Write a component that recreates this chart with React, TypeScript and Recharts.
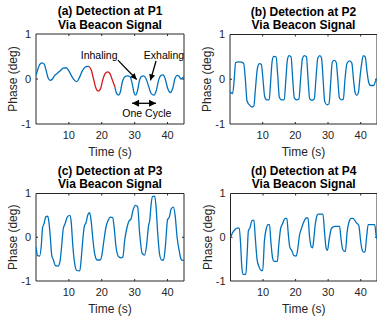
import React from 'react';
import { LineChart, Line, XAxis, YAxis, ReferenceArea, ReferenceLine, ReferenceDot } from 'recharts';

// ---- shared axis config ----
const xDomain: [number, number] = [0, 45];
const yDomain: [number, number] = [-1, 1];
const xTicks = [10, 20, 30, 40];
const yTicks = [-1, 0, 1];

const subtitle = 'Via Beacon Signal';
const xLabel = 'Time (s)';
const yLabel = 'Phase (deg)';

// ---- P1 ----
const p1Title = '(a) Detection at P1';
const p1Time = [0, 0.5, 1.1, 1.8, 2.5, 3.1, 3.7, 4.3, 5.0, 5.6, 6.4, 7.3, 8.3, 9.2, 10.0, 10.8, 11.6, 12.4, 13.2, 14.0, 14.9, 15.6,
  16.1, 16.8, 17.5, 18.2, 18.9, 19.6, 20.3, 21.0, 21.8, 22.5, 23.2, 24.0,
  24.5, 25.1, 25.6, 26.3, 27.0, 27.8, 28.6, 29.3, 29.8, 30.3, 30.9, 31.5, 32.1, 32.8, 33.5, 34.2, 35.0, 35.9, 36.6, 37.3, 38.0, 38.6, 39.3, 40.0, 40.9, 41.6, 42.3, 43.0, 43.5, 44.1, 44.6, 45.0];
const p1Phase = [0.08, 0.2, 0.32, 0.36, 0.33, 0.18, 0.02, -0.03, 0.0, 0.07, 0.12, 0.18, 0.24, 0.25, 0.18, 0.07, -0.02, -0.06, 0.03, 0.17, 0.26, 0.28,
  0.28, 0.2, 0.0, -0.2, -0.27, -0.22, -0.02, 0.12, 0.16, 0.12, -0.02, -0.18,
  -0.32, -0.36, -0.3, -0.05, 0.05, 0.07, 0.05, -0.12, -0.3, -0.36, -0.25, -0.02, 0.06, 0.07, 0.0, -0.15, -0.32, -0.36, -0.25, -0.02, 0.08, 0.09, 0.0, -0.2, -0.3, -0.2, 0.02, 0.08, 0.06, 0.0, 0.03, 0.05];
const p1RedFrom = 16.1;
const p1RedTo = 24.0;

// ---- P2 ----
const p2Title = '(b) Detection at P2';
const p2Time = [0, 0.8, 1.3, 1.7, 2.5, 3.5, 4.2, 4.7, 5.2, 6.0, 6.8, 7.3, 7.8, 8.4, 9.0, 9.6, 10.1, 10.6, 11.2, 12.0, 12.4, 12.9, 13.4, 14.1, 14.6, 15.1, 15.8, 16.6, 17.1, 17.6, 18.1, 18.7, 19.2, 19.7, 20.4, 21.1, 21.6, 22.2, 22.8, 23.4, 23.9, 24.4, 25.1, 25.8, 26.3, 26.9, 27.5, 28.0, 28.5, 29.0, 29.7, 30.3, 30.8, 31.3, 31.9, 32.5, 33.0, 33.5, 34.1, 34.7, 35.2, 35.8, 36.6, 37.3, 37.8, 38.3, 38.8, 39.3, 39.8, 40.3, 40.8, 41.4, 41.9, 42.4, 43.0, 44.0, 44.5, 45];
const p2Phase = [-0.28, -0.32, 0.0, 0.37, 0.39, 0.38, 0.35, 0.0, -0.48, -0.58, -0.62, -0.6, -0.2, 0.25, 0.35, 0.33, 0.0, -0.38, -0.46, -0.46, -0.1, 0.4, 0.51, 0.5, 0.1, -0.4, -0.46, -0.46, 0.0, 0.45, 0.53, 0.5, 0.0, -0.42, -0.46, -0.44, 0.0, 0.47, 0.53, 0.5, 0.0, -0.44, -0.47, -0.44, 0.0, 0.48, 0.53, 0.48, 0.0, -0.5, -0.57, -0.55, -0.1, 0.38, 0.42, 0.38, 0.0, -0.42, -0.46, -0.44, 0.0, 0.35, 0.41, 0.36, 0.0, -0.3, -0.36, -0.3, 0.05, 0.35, 0.53, 0.5, 0.2, -0.05, -0.14, -0.14, -0.05, 0.0];

// ---- P3 ----
const p3Title = '(c) Detection at P3';
const p3Time = [0, 0.5, 1.1, 1.6, 2.0, 2.4, 3.0, 3.6, 4.0, 4.4, 4.8, 5.3, 5.9, 6.7, 7.3, 7.8, 8.3, 8.8, 9.5, 10.3, 10.7, 11.2, 11.8, 12.4, 13.3, 13.8, 14.3, 14.7, 15.2, 15.8, 16.3, 16.8, 17.3, 17.9, 18.6, 19.5, 20.0, 20.6, 21.3, 21.9, 22.6, 23.3, 23.8, 24.3, 25.0, 25.8, 26.4, 27.0, 27.6, 28.2, 28.9, 29.5, 30.3, 30.9, 31.5, 32.3, 33.0, 33.6, 34.2, 34.6, 35.0, 35.4, 36.1, 36.5, 37.0, 37.6, 38.2, 38.8, 39.4, 40.0, 40.5, 41.1, 41.8, 42.3, 42.9, 43.5, 44.1, 44.6, 45];
const p3Phase = [-0.22, -0.42, -0.43, -0.2, 0.22, 0.3, 0.47, 0.48, 0.3, -0.05, -0.42, -0.52, -0.65, -0.66, -0.55, -0.2, 0.2, 0.3, 0.46, 0.5, 0.35, -0.2, -0.62, -0.76, -0.77, -0.45, 0.0, 0.25, 0.33, 0.52, 0.56, 0.35, -0.05, -0.4, -0.52, -0.52, -0.42, -0.1, 0.24, 0.38, 0.46, 0.45, 0.2, -0.2, -0.43, -0.47, -0.45, -0.05, 0.2, 0.36, 0.42, 0.62, 0.73, 0.7, 0.1, -0.37, -0.41, -0.2, 0.25, 0.4, 0.75, 0.93, 0.94, 0.7, 0.1, -0.4, -0.52, -0.52, -0.15, 0.4, 0.45, 0.65, 0.69, 0.5, 0.0, -0.29, -0.5, -0.53, -0.53];

// ---- P4 ----
const p4Title = '(d) Detection at P4';
const p4Time = [0, 0.6, 1.2, 2.0, 2.7, 3.1, 3.5, 3.9, 4.7, 5.1, 5.5, 6.0, 6.6, 7.2, 7.6, 8.2, 8.8, 9.4, 9.9, 10.4, 11.0, 11.5, 12.0, 12.4, 13.0, 13.4, 14.4, 14.8, 15.4, 16.0, 16.8, 17.3, 17.7, 18.2, 18.8, 19.5, 20.2, 20.6, 21.2, 21.8, 22.4, 23.3, 23.8, 24.3, 24.8, 25.2, 25.5, 26.0, 26.5, 26.9, 28.4, 28.9, 29.4, 29.8, 30.3, 31.0, 32.0, 33.5, 33.9, 34.4, 34.9, 35.3, 35.8, 36.4, 37.1, 37.6, 38.7, 39.4, 40.0, 40.4, 40.9, 41.3, 41.8, 42.3, 43.3, 44.3, 44.8, 45];
const p4Phase = [0.0, 0.1, 0.16, 0.21, 0.21, -0.15, -0.7, -0.85, -0.85, -0.4, 0.15, 0.22, 0.38, 0.39, 0.0, -0.53, -0.68, -0.76, -0.76, -0.1, 0.2, 0.29, 0.29, -0.1, -0.5, -0.55, -0.55, -0.2, 0.2, 0.31, 0.43, 0.43, 0.12, -0.22, -0.3, -0.42, -0.43, -0.3, 0.05, 0.2, 0.33, 0.44, 0.44, 0.0, -0.22, -0.24, -0.1, 0.27, 0.48, 0.53, 0.53, 0.1, -0.26, -0.3, -0.05, 0.2, 0.25, 0.25, 0.0, -0.26, -0.32, -0.32, 0.1, 0.35, 0.43, 0.43, 0.33, 0.27, -0.1, -0.28, -0.34, -0.33, 0.0, 0.29, 0.29, 0.29, 0.0, -0.03];

// ---- P1 annotations (data coordinates) ----
const inhalingText = { label: 'Inhaling', t: 19.2, v: 0.53 };
const exhalingText = { label: 'Exhaling', t: 38.9, v: 0.53 };
const cycleText = { label: 'One Cycle', t: 33.7, v: -0.76 };
const inhalingArrow = [{ x: 24.9, y: 0.42 }, { x: 30.6, y: -0.01 }];
const exhalingArrow = [{ x: 36.5, y: 0.4 }, { x: 34.8, y: -0.03 }];
const cycleArrow = [{ x: 29.2, y: -0.54 }, { x: 36.5, y: -0.54 }];

const BLUE = '#0072BD';
const RED = '#D9161B';
const AX = '#262626';
const FONT = '"Liberation Sans", Arial, Helvetica, sans-serif';

const zip = (ts: number[], vs: number[]) => ts.map((t, i) => ({ t, v: vs[i] }));

const p1Data = p1Time.map((t, i) => ({
  t,
  blue: t <= p1RedFrom || t >= p1RedTo ? p1Phase[i] : null,
  red: t >= p1RedFrom && t <= p1RedTo ? p1Phase[i] : null,
}));

type Frame = { left: number; top: number; width: number; height: number; pl: number; pt: number; pr: number; pb: number };

const frames: Frame[] = [
  { left: 0, top: 0, width: 190, height: 162, pl: 36, pt: 34, pr: 184, pb: 124 },
  { left: 188, top: 0, width: 189, height: 162, pl: 230, pt: 34.5, pr: 377, pb: 124 },
  { left: 0, top: 162, width: 190, height: 162, pl: 36, pt: 193.5, pr: 184, pb: 281 },
  { left: 188, top: 162, width: 189, height: 162, pl: 230.5, pt: 193.5, pr: 377, pb: 281 },
];

function arrowShape(double: boolean, head: number, headW: number) {
  return (p: any) => {
    const { x1, y1, x2, y2 } = p;
    const dx = x2 - x1, dy = y2 - y1;
    const len = Math.sqrt(dx * dx + dy * dy) || 1;
    const ux = dx / len, uy = dy / len;
    const nx = -uy, ny = ux;
    const headAt = (tx: number, ty: number, sx: number, sy: number) => {
      const bx = tx - sx * head, by = ty - sy * head;
      return `${tx},${ty} ${bx + nx * headW},${by + ny * headW} ${bx - nx * headW},${by - ny * headW}`;
    };
    return (
      <g>
        <line x1={x1} y1={y1} x2={x2} y2={y2} stroke="#000" strokeWidth={1.3} />
        <polygon points={headAt(x2, y2, ux, uy)} fill="#000" />
        {double ? <polygon points={headAt(x1, y1, -ux, -uy)} fill="#000" /> : null}
      </g>
    );
  };
}

const textShape = (label: string) => (p: any) => (
  <text x={p.cx} y={p.cy} textAnchor="middle" dominantBaseline="central" fontFamily={FONT} fontSize={10.5} fill="#000">
    {label}
  </text>
);

function Panel({ frame, title, data, children }: { frame: Frame; title: string; data: any[]; children: React.ReactNode }) {
  const { left, top, width, height, pl, pt, pr, pb } = frame;
  const plotW = pr - pl;
  const plotH = pb - pt;
  const tickY = (2 * 2) / plotH;
  const tickX = (2 * 45) / plotW;
  const cx = (pl + pr) / 2 - left;
  return (
    <div style={{ position: 'absolute', left, top, width, height }}>
      <LineChart
        width={width}
        height={height}
        data={data}
        margin={{ top: pt - top, right: left + width - pr, bottom: 0, left: 0 }}
      >
        <XAxis
          type="number"
          dataKey="t"
          domain={xDomain}
          ticks={xTicks}
          allowDataOverflow
          axisLine={false}
          tickLine={false}
          tickSize={0}
          tickMargin={7.5}
          height={top + height - pb}
          tick={{ fontSize: 11, fill: AX, fontFamily: FONT }}
        />
        <YAxis
          type="number"
          domain={yDomain}
          ticks={yTicks}
          allowDataOverflow
          axisLine={false}
          tickLine={false}
          tickSize={0}
          tickMargin={5}
          width={pl - left}
          tick={{ fontSize: 11, fill: AX, fontFamily: FONT }}
        />
        <ReferenceArea x1={0} x2={45} y1={-1} y2={1} fill="none" stroke={AX} strokeWidth={1} ifOverflow="visible" />
        {xTicks.map((xt) => (
          <ReferenceLine key={'b' + xt} segment={[{ x: xt, y: -1 }, { x: xt, y: -1 + tickY }]} stroke={AX} strokeWidth={1} />
        ))}
        {xTicks.map((xt) => (
          <ReferenceLine key={'t' + xt} segment={[{ x: xt, y: 1 }, { x: xt, y: 1 - tickY }]} stroke={AX} strokeWidth={1} />
        ))}
        {yTicks.filter((y) => y > -1 && y < 1).map((yt) => (
          <ReferenceLine key={'l' + yt} segment={[{ x: 0, y: yt }, { x: tickX, y: yt }]} stroke={AX} strokeWidth={1} />
        ))}
        {yTicks.filter((y) => y > -1 && y < 1).map((yt) => (
          <ReferenceLine key={'r' + yt} segment={[{ x: 45 - tickX, y: yt }, { x: 45, y: yt }]} stroke={AX} strokeWidth={1} />
        ))}
        {children}
      </LineChart>
      <svg width={width} height={height} style={{ position: 'absolute', left: 0, top: 0, pointerEvents: 'none' }}>
        <text x={cx} y={pt - top - 23} textAnchor="middle" dominantBaseline="central" fontFamily={FONT} fontWeight="bold" fontSize={12} fill="#000">
          {title}
        </text>
        <text x={cx} y={pt - top - 9.5} textAnchor="middle" dominantBaseline="central" fontFamily={FONT} fontWeight="bold" fontSize={12} fill="#000">
          {subtitle}
        </text>
        <text
          x={pl - left - 23}
          y={(pt + pb) / 2 - top}
          transform={`rotate(-90 ${pl - left - 23} ${(pt + pb) / 2 - top})`}
          textAnchor="middle"
          dominantBaseline="central"
          fontFamily={FONT}
          fontSize={12}
          fill={AX}
        >
          {yLabel}
        </text>
        <text x={cx} y={pb - top + 28} textAnchor="middle" dominantBaseline="central" fontFamily={FONT} fontSize={12} fill={AX}>
          {xLabel}
        </text>
      </svg>
    </div>
  );
}

export default function App() {
  return (
    <div style={{ position: 'absolute', left: 0, top: 0, width: 377, height: 324, background: '#fff', overflow: 'hidden' }}>
      <Panel frame={frames[0]} title={p1Title} data={p1Data}>
        <Line type="monotone" dataKey="blue" stroke={BLUE} strokeWidth={1.3} dot={false} connectNulls={false} isAnimationActive={false} />
        <Line type="monotone" dataKey="red" stroke={RED} strokeWidth={1.3} dot={false} connectNulls={false} isAnimationActive={false} />
        <ReferenceLine segment={inhalingArrow} shape={arrowShape(false, 6, 3)} />
        <ReferenceLine segment={exhalingArrow} shape={arrowShape(false, 6, 3)} />
        <ReferenceLine segment={cycleArrow} shape={arrowShape(true, 7, 3.5)} />
        <ReferenceDot x={inhalingText.t} y={inhalingText.v} r={0} shape={textShape(inhalingText.label)} />
        <ReferenceDot x={exhalingText.t} y={exhalingText.v} r={0} shape={textShape(exhalingText.label)} />
        <ReferenceDot x={cycleText.t} y={cycleText.v} r={0} shape={textShape(cycleText.label)} />
      </Panel>
      <Panel frame={frames[1]} title={p2Title} data={zip(p2Time, p2Phase)}>
        <Line type="monotone" dataKey="v" stroke={BLUE} strokeWidth={1.3} dot={false} isAnimationActive={false} />
      </Panel>
      <Panel frame={frames[2]} title={p3Title} data={zip(p3Time, p3Phase)}>
        <Line type="monotone" dataKey="v" stroke={BLUE} strokeWidth={1.3} dot={false} isAnimationActive={false} />
      </Panel>
      <Panel frame={frames[3]} title={p4Title} data={zip(p4Time, p4Phase)}>
        <Line type="monotone" dataKey="v" stroke={BLUE} strokeWidth={1.3} dot={false} isAnimationActive={false} />
      </Panel>
    </div>
  );
}
